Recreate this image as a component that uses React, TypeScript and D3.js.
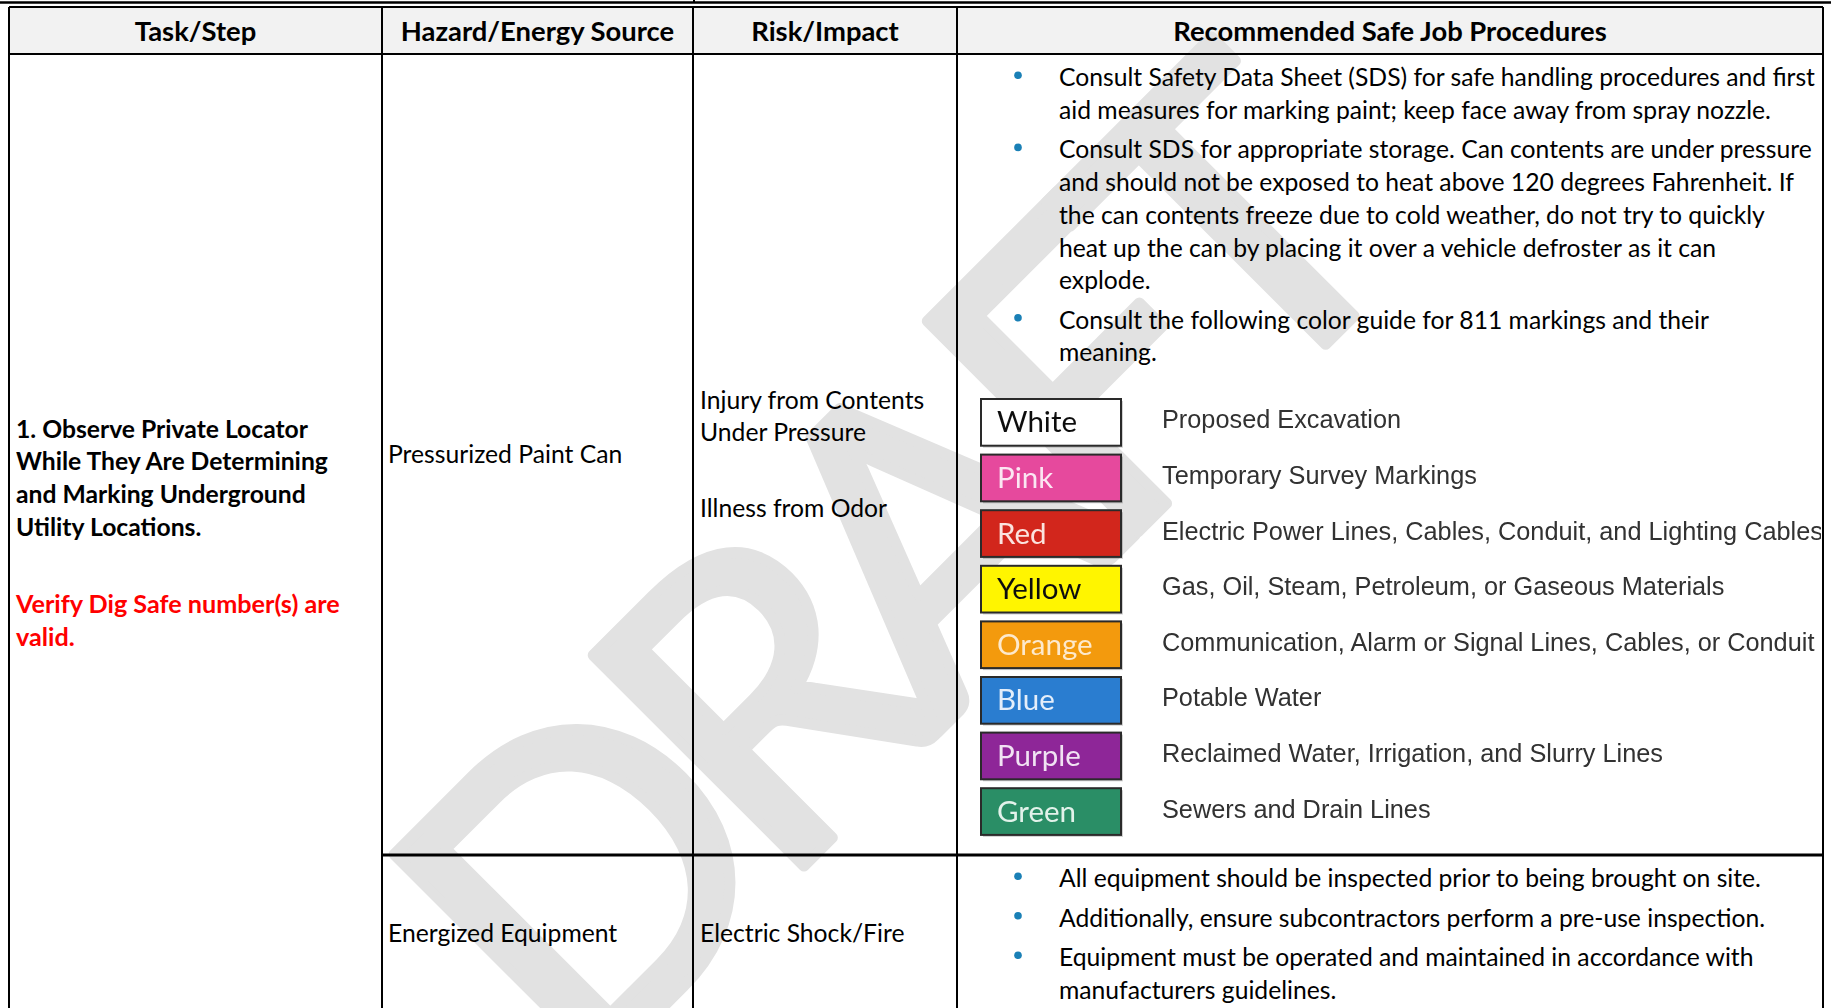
import React from "react";
import * as d3 from "d3";

// table content
const columns = ["Task/Step", "Hazard/Energy Source", "Risk/Impact", "Recommended Safe Job Procedures"];

const taskLines = ["1. Observe Private Locator", "While They Are Determining", "and Marking Underground", "Utility Locations."];
const taskNote = ["Verify Dig Safe number(s) are", "valid."];

const hazards = ["Pressurized Paint Can", "Energized Equipment"];
const risksRow1 = [["Injury from Contents", "Under Pressure"], ["Illness from Odor"]];
const risksRow2 = ["Electric Shock/Fire"];

const proceduresRow1 = [
  ["Consult Safety Data Sheet (SDS) for safe handling procedures and first", "aid measures for marking paint; keep face away from spray nozzle."],
  [
    "Consult SDS for appropriate storage. Can contents are under pressure",
    "and should not be exposed to heat above 120 degrees Fahrenheit. If",
    "the can contents freeze due to cold weather, do not try to quickly",
    "heat up the can by placing it over a vehicle defroster as it can",
    "explode.",
  ],
  ["Consult the following color guide for 811 markings and their", "meaning."],
];
const proceduresRow2 = [
  ["All equipment should be inspected prior to being brought on site."],
  ["Additionally, ensure subcontractors perform a pre-use inspection."],
  ["Equipment must be operated and maintained in accordance with", "manufacturers guidelines."],
];

const markNames = ["White", "Pink", "Red", "Yellow", "Orange", "Blue", "Purple", "Green"];
const markFills = ["#ffffff", "#e6489d", "#d2281b", "#fff500", "#f39a0b", "#2b7dd0", "#8e2698", "#2a8e66"];
const markLabelColors = ["#111111", "#fbe6f2", "#fbe3df", "#111111", "#fde9cc", "#e4eefa", "#f1e2f3", "#e2f2ea"];
const markMeanings = [
  "Proposed Excavation",
  "Temporary Survey Markings",
  "Electric Power Lines, Cables, Conduit, and Lighting Cables",
  "Gas, Oil, Steam, Petroleum, or Gaseous Materials",
  "Communication, Alarm or Signal Lines, Cables, or Conduit",
  "Potable Water",
  "Reclaimed Water, Irrigation, and Slurry Lines",
  "Sewers and Drain Lines",
];

const W = 1831;
const H = 1008;
const colX = [9, 382, 693, 957, 1823];
const headTop = 7;
const headBottom = 54;
const rowSplit = 855;

const font = "Lato, 'Open Sans', sans-serif";
const fontSize = 24.7;
const headSize = 27.4;
const lineH = 32.7;
const bulletGap = 6.8;
const base = 8; // center -> baseline

// y position of every line of a bulleted list
function layoutBullets(groups: string[][], start: number) {
  const out: { text: string; y: number; first: boolean }[] = [];
  let n = 0;
  groups.forEach((g, gi) => {
    g.forEach((t, li) => {
      out.push({ text: t, y: start + n * lineH + gi * bulletGap, first: li === 0 });
      n++;
    });
  });
  return out;
}

export default function App() {
  const lineY = d3.scaleLinear().domain([0, 1]).range([0, lineH]);
  const step = 55.6;
  const pad = 0.16;
  const legendY = d3
    .scaleBand<string>()
    .domain(markNames)
    .range([399, 399 + step * (markNames.length - pad)])
    .paddingInner(pad)
    .paddingOuter(0);

  const rec1 = layoutBullets(proceduresRow1, 78.2);
  const rec2 = layoutBullets(proceduresRow2, 879.3);

  const textStyle = { fontFamily: font, fontSize, fill: "#000" };

  return (
    <svg width={W} height={H} style={{ position: "absolute", left: 0, top: 0, background: "#fff" }}>
      <defs>
        <filter id="soft" x="-5%" y="-5%" width="110%" height="110%">
          <feGaussianBlur stdDeviation="0.55" />
        </filter>
        <clipPath id="cellClip">
          <rect x={colX[3]} y={headBottom} width={colX[4] - colX[3] - 2} height={rowSplit - headBottom} />
        </clipPath>
      </defs>
      <rect x={0} y={0} width={W} height={H} fill="#fff" />
      {/* header background */}
      <rect x={colX[0]} y={headTop} width={colX[4] - colX[0]} height={headBottom - headTop} fill="#f2f2f2" />

      {/* DRAFT watermark */}
      <g transform="translate(578,1092) rotate(-45)">
        <text
          x={0}
          y={0}
          textLength={1200}
          lengthAdjust="spacing"
          style={{ fontFamily: font, fontSize: 416, fill: "#e2e2e2", stroke: "#e2e2e2", strokeWidth: 11, strokeLinejoin: "round" }}
        >
          DRAFT
        </text>
      </g>

      {/* header labels */}
      {columns.map((c, i) => (
        <text
          key={c}
          x={(colX[i] + colX[i + 1]) / 2}
          y={31.5 + 9.5}
          textAnchor="middle"
          style={{ ...textStyle, fontSize: headSize, fontWeight: 700 }}
        >
          {c}
        </text>
      ))}

      {/* task column */}
      {taskLines.map((t, i) => (
        <text key={t} x={16} y={429.7 + lineY(i) + base} style={{ ...textStyle, fontWeight: 700 }}>
          {t}
        </text>
      ))}
      {taskNote.map((t, i) => (
        <text key={t} x={16} y={605 + lineY(i) + base} style={{ ...textStyle, fontSize: 25.2, fontWeight: 700, fill: "#ff0000" }}>
          {t}
        </text>
      ))}

      {/* hazard column */}
      <text x={388} y={455.4 + base} style={textStyle}>{hazards[0]}</text>
      <text x={388} y={934.2 + base} style={textStyle}>{hazards[1]}</text>

      {/* risk column */}
      {risksRow1[0].map((t, i) => (
        <text key={t} x={700} y={400.5 + lineY(i) + base} style={textStyle}>{t}</text>
      ))}
      {risksRow1[1].map((t) => (
        <text key={t} x={700} y={509.1 + base} style={textStyle}>{t}</text>
      ))}
      <text x={700} y={934.2 + base} style={textStyle}>{risksRow2[0]}</text>

      {/* procedures */}
      {[...rec1, ...rec2].map((d, i) => (
        <g key={i}>
          {d.first && <circle cx={1018} cy={d.y - 3} r={3.8} fill="#1a80b6" />}
          <text x={1059} y={d.y + base} style={textStyle}>{d.text}</text>
        </g>
      ))}

      {/* 811 color guide */}
      <g clipPath="url(#cellClip)">
        <g filter="url(#soft)">
          {markNames.map((m, i) => {
            const y0 = legendY(m) as number;
            const bh = legendY.bandwidth();
            return (
              <g key={m}>
                <rect x={983} y={y0 + 2} width={140} height={bh} fill="#000" opacity={0.18} />
                <rect x={981} y={y0} width={140} height={bh} fill={markFills[i]} stroke="#2a2a2a" strokeWidth={2} />
                <text x={997} y={y0 + bh / 2 + 10} style={{ fontFamily: font, fontSize: 29.5, fill: markLabelColors[i] }}>
                  {m}
                </text>
                <text
                  x={1162}
                  y={y0 + bh / 2 + 6}
                  style={{ fontFamily: "'Liberation Sans', Arial, sans-serif", fontSize: 25.3, fill: "#303030" }}
                >
                  {markMeanings[i]}
                </text>
              </g>
            );
          })}
        </g>
      </g>

      {/* grid lines */}
      <g stroke="#000" fill="none">
        <line x1={0} x2={W} y1={2.5} y2={2.5} strokeWidth={2.5} />
        <line x1={694} x2={694} y1={0} y2={3} strokeWidth={2} />
        <line x1={colX[0]} x2={colX[4]} y1={headTop} y2={headTop} strokeWidth={2} />
        <line x1={colX[0]} x2={colX[4]} y1={headBottom} y2={headBottom} strokeWidth={2} />
        <line x1={colX[1]} x2={colX[4]} y1={rowSplit} y2={rowSplit} strokeWidth={3} />
        {colX.map((x) => (
          <line key={x} x1={x} x2={x} y1={headTop} y2={H} strokeWidth={2} />
        ))}
      </g>
    </svg>
  );
}
